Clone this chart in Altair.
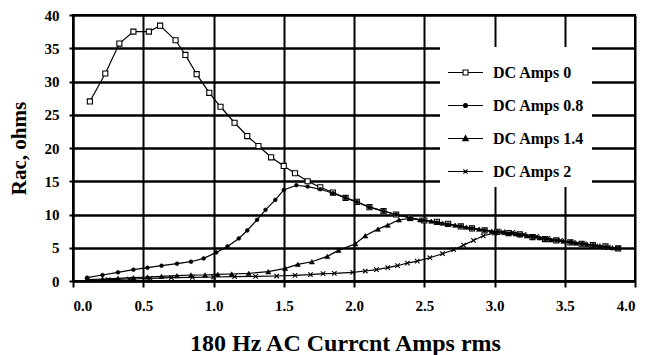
import altair as alt
import pandas as pd

series_names = ["DC Amps 0", "DC Amps 0.8", "DC Amps 1.4", "DC Amps 2"]

dc0_x = [0.12, 0.23, 0.33, 0.43, 0.54, 0.62, 0.73, 0.80, 0.88, 0.97, 1.05, 1.15, 1.24, 1.32,
         1.41, 1.50, 1.58, 1.67, 1.76, 1.85, 1.94, 2.02, 2.11, 2.21, 2.30, 2.40, 2.50, 2.59,
         2.67, 2.76, 2.84, 2.93, 3.02, 3.10, 3.18, 3.27, 3.36, 3.44, 3.54, 3.62, 3.70, 3.79, 3.88]
dc0_y = [27.0, 31.2, 35.7, 37.5, 37.5, 38.4, 36.2, 34.0, 31.1, 28.3, 26.2, 23.8, 21.8, 20.3,
         18.6, 17.3, 16.2, 15.0, 14.1, 13.3, 12.5, 11.9, 11.1, 10.5, 10.0, 9.5, 9.1, 8.9,
         8.6, 8.2, 7.9, 7.6, 7.4, 7.2, 7.0, 6.6, 6.3, 6.1, 5.8, 5.6, 5.4, 5.2, 4.9]

dc08_x = [0.10, 0.21, 0.32, 0.43, 0.53, 0.63, 0.74, 0.84, 0.93, 1.02, 1.10, 1.18, 1.24, 1.31,
          1.37, 1.44, 1.50, 1.59, 1.67, 1.76, 1.85, 1.94, 2.02, 2.11, 2.21, 2.30, 2.40, 2.50,
          2.59, 2.67, 2.76, 2.84, 2.93, 3.02, 3.10, 3.18, 3.27, 3.36, 3.44, 3.54, 3.62, 3.70,
          3.79, 3.88]
dc08_y = [0.5, 0.9, 1.3, 1.7, 2.0, 2.3, 2.6, 2.9, 3.4, 4.3, 5.2, 6.4, 7.6, 9.2,
          10.7, 12.2, 13.7, 14.4, 14.2, 13.8, 13.2, 12.5, 11.9, 11.1, 10.5, 10.0, 9.5, 9.1,
          8.8, 8.5, 8.2, 7.9, 7.6, 7.4, 7.1, 6.9, 6.6, 6.3, 6.1, 5.8, 5.6, 5.4,
          5.1, 4.9]

dc14_x = [0.10, 0.21, 0.32, 0.43, 0.53, 0.63, 0.74, 0.84, 0.94, 1.03, 1.13, 1.25, 1.39, 1.51,
          1.60, 1.70, 1.81, 1.89, 2.01, 2.08, 2.17, 2.24, 2.32, 2.40, 2.47, 2.55, 2.63, 2.72,
          2.80, 2.89, 2.98, 3.07, 3.15, 3.23, 3.32, 3.40, 3.49, 3.58, 3.66, 3.75, 3.84]
dc14_y = [0.2, 0.3, 0.4, 0.5, 0.6, 0.7, 0.8, 0.9, 0.9, 1.0, 1.05, 1.15, 1.4, 1.9,
          2.5, 2.9, 3.7, 4.6, 5.6, 6.8, 7.8, 8.4, 9.2, 9.4, 9.2, 9.0, 8.7, 8.4,
          8.1, 7.8, 7.5, 7.3, 7.1, 6.8, 6.5, 6.2, 6.0, 5.7, 5.5, 5.3, 5.0]

dc2_x = [0.10, 0.25, 0.40, 0.55, 0.70, 0.85, 1.00, 1.15, 1.30, 1.45, 1.58, 1.69, 1.78, 1.86,
         1.99, 2.08, 2.16, 2.24, 2.31, 2.38, 2.45, 2.54, 2.63, 2.71, 2.78, 2.85, 2.92, 3.00,
         3.06, 3.13, 3.21, 3.30, 3.38, 3.47, 3.56, 3.64, 3.72, 3.81, 3.88]
dc2_y = [0.1, 0.2, 0.3, 0.4, 0.5, 0.55, 0.6, 0.65, 0.7, 0.75, 0.85, 0.95, 1.1, 1.15,
         1.3, 1.5, 1.7, 2.0, 2.3, 2.7, 3.0, 3.5, 4.1, 4.7, 5.4, 6.1, 6.8, 7.2,
         7.4, 7.3, 7.0, 6.7, 6.4, 6.1, 5.8, 5.6, 5.3, 5.1, 4.9]

x_ticks = [0.0, 0.5, 1.0, 1.5, 2.0, 2.5, 3.0, 3.5, 4.0]
y_ticks = [0, 5, 10, 15, 20, 25, 30, 35, 40]

FONT = "Liberation Serif"


def make_df(xs, ys, name):
    return pd.DataFrame({"amps": xs, "rac": ys, "series": name})


frames = [
    make_df(dc0_x, dc0_y, series_names[0]),
    make_df(dc08_x, dc08_y, series_names[1]),
    make_df(dc14_x, dc14_y, series_names[2]),
    make_df(dc2_x, dc2_y, series_names[3]),
]
all_df = pd.concat(frames, ignore_index=True)

x_enc = alt.X(
    "amps:Q",
    scale=alt.Scale(domain=[0, 4], nice=False, zero=False),
    axis=alt.Axis(
        values=x_ticks, format=".1f", title="180 Hz AC Currcnt Amps rms",
        grid=True, gridColor="black", gridWidth=2, gridOpacity=1,
        domainColor="black", domainWidth=2,
        tickColor="black", tickWidth=2, tickSize=6,
        labelFont=FONT, labelFontWeight="bold", labelFontSize=15, labelColor="black",
        labelPadding=11,
        titleFont=FONT, titleFontWeight="bold", titleFontSize=24, titleColor="black",
        titleBaseline="alphabetic", titleY=69, titleX=272,
    ),
)
y_enc = alt.Y(
    "rac:Q",
    scale=alt.Scale(domain=[0, 40], nice=False),
    axis=alt.Axis(
        values=y_ticks, title="Rac, ohms",
        grid=True, gridColor="black", gridWidth=2.5, gridOpacity=1,
        domainColor="black", domainWidth=2,
        tickColor="black", tickWidth=2, tickSize=4,
        labelFont=FONT, labelFontWeight="bold", labelFontSize=15, labelColor="black",
        labelPadding=10,
        titleFont=FONT, titleFontWeight="bold", titleFontSize=21, titleColor="black",
        titleBaseline="middle", titleX=-54, titleY=133, titleAngle=270,
    ),
)

marker_styles = [
    dict(shape="square", size=26, filled=False, fill="white", stroke="black", strokeWidth=1.1),
    dict(shape="circle", size=14, filled=True, fill="black", stroke="black", strokeWidth=0.6),
    dict(shape="triangle-up", size=26, filled=True, fill="black", stroke="black", strokeWidth=0.6),
    dict(shape="M-1,-1L1,1M-1,1L1,-1", size=20, filled=False, stroke="black", strokeWidth=1.1),
]

legend_paths = [
    "M-1,0H-0.143M0.143,0H1M-0.143,-0.143H0.143V0.143H-0.143Z",
    "M-1,0H1M-0.114,0A0.114,0.114 0 1,0 0.114,0A0.114,0.114 0 1,0 -0.114,0Z",
    "M-1,0H1M0,-0.17L0.16,0.12L-0.16,0.12Z",
    "M-1,0H1M-0.12,-0.12L0.12,0.12M-0.12,0.12L0.12,-0.12",
]

legend_kw = dict(
    orient="none", legendX=367, legendY=32, fillColor="white", padding=7,
    labelFont=FONT, labelFontWeight="bold", labelFontSize=16, labelColor="black",
    labelOffset=9, symbolSize=1225, symbolOpacity=1, rowPadding=6,
    symbolStrokeColor="black", symbolStrokeWidth=1.1,
)

legend_layer = alt.Chart(all_df).mark_point(
    opacity=0, size=1225, filled=True, strokeWidth=1.1
).encode(
    x=x_enc, y=y_enc,
    shape=alt.Shape("series:N", scale=alt.Scale(domain=series_names, range=legend_paths),
                    title=None, legend=alt.Legend(**legend_kw)),
    fill=alt.Fill("series:N", scale=alt.Scale(domain=series_names, range=["white", "black", "black", "black"]),
                  title=None, legend=alt.Legend(**legend_kw)),
    stroke=alt.Stroke("series:N", scale=alt.Scale(domain=series_names, range=["black", "black", "black", "black"]),
                      title=None, legend=alt.Legend(**legend_kw)),
)

layers = [legend_layer]
for frame, style in zip(frames, marker_styles):
    base = alt.Chart(frame)
    layers.append(base.mark_line(color="black", strokeWidth=1.2).encode(x=x_enc, y=y_enc))
    layers.append(base.mark_point(opacity=1, **style).encode(x=x_enc, y=y_enc))

chart = alt.layer(*layers).properties(
    width=562, height=266,
    autosize=alt.AutoSizeParams(type="none"),
    padding={"left": 73, "top": 15, "right": 24, "bottom": 74},
    background="white",
).configure_view(stroke="black", strokeWidth=2)

chart.save("out.html", embed_options={"renderer": "svg", "actions": False})
